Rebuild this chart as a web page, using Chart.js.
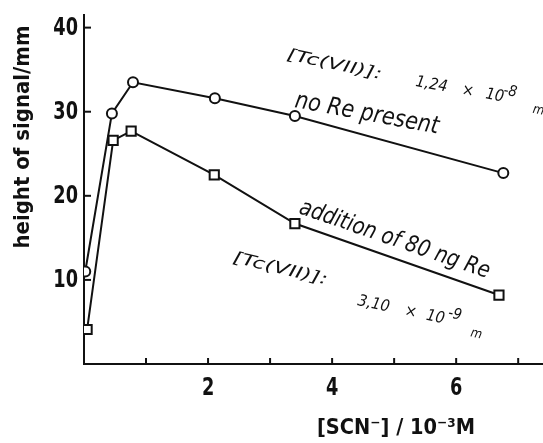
<!DOCTYPE html>
<html>
<head>
<meta charset="utf-8">
<script src="https://cdn.jsdelivr.net/npm/chart.js"></script>
<style>
  html, body { margin: 0; padding: 0; background: #fff; }
  #wrap { width: 543px; height: 443px; }
</style>
</head>
<body>
<div id="wrap"><canvas id="myChart" width="543" height="443"></canvas></div>
<script>
// [SCN-] in 10^-3 M, signal height in mm
const xNoRe = [0.02, 0.45, 0.79, 2.11, 3.40, 6.76];
const yNoRe = [11.0, 29.8, 33.5, 31.6, 29.5, 22.7];
const xWithRe = [0.05, 0.47, 0.76, 2.10, 3.40, 6.69];
const yWithRe = [4.1, 26.6, 27.7, 22.5, 16.7, 8.2];

const xTickValues = [1, 2, 3, 4, 5, 6, 7];
const xTickLabels = ['', '2', '', '4', '', '6', ''];
const yTickValues = [10, 20, 30, 40];
const yTickLabels = ['10', '20', '30', '40'];

const INK = '#111';
const HAND = '"Liberation Sans Narrow", "DejaVu Sans Condensed", sans-serif';

function toPoints(xs, ys) {
    return xs.map((v, i) => ({x: v, y: ys[i]}));
}

// draw a string rotated, stretched to a given length along its baseline
function fitText(ctx, str, x, y, angle, font, width, align) {
    ctx.save();
    ctx.translate(x, y);
    ctx.rotate(angle * Math.PI / 180);
    ctx.font = font;
    ctx.textAlign = align || 'left';
    const w = ctx.measureText(str).width;
    ctx.scale(width / w, 1);
    ctx.fillText(str, 0, 0);
    ctx.restore();
}

// narrow upright text (tick numbers)
function narrowText(ctx, str, x, y, align, baseline) {
    ctx.save();
    ctx.translate(x, y);
    ctx.scale(0.82, 1);
    ctx.font = 'bold 24px ' + HAND;
    ctx.textAlign = align;
    ctx.textBaseline = baseline;
    ctx.fillText(str, 0, 0);
    ctx.restore();
}

// several pieces on one rotated baseline: [text, dx, dy, size]
function drawPieces(ctx, x, y, angle, pieces) {
    ctx.save();
    ctx.translate(x, y);
    ctx.rotate(angle * Math.PI / 180);
    ctx.textAlign = 'left';
    pieces.forEach(p => {
        ctx.font = 'italic ' + p[3] + 'px ' + HAND;
        ctx.fillText(p[0], p[1], p[2]);
    });
    ctx.restore();
}

const paperMarks = {
    id: 'paperMarks',

    beforeDatasetsDraw(chart) {
        const {ctx, scales: {x, y}} = chart;
        ctx.save();
        ctx.strokeStyle = INK;
        ctx.lineWidth = 2;
        yTickValues.forEach(v => {
            const py = y.getPixelForValue(v);
            ctx.beginPath();
            ctx.moveTo(x.left, py);
            ctx.lineTo(x.left + 7, py);
            ctx.stroke();
        });
        xTickValues.forEach(v => {
            const px = x.getPixelForValue(v);
            ctx.beginPath();
            ctx.moveTo(px, y.bottom);
            ctx.lineTo(px, y.bottom - 6);
            ctx.stroke();
        });
        ctx.restore();
    },

    afterDraw(chart) {
        const {ctx, scales: {x, y}} = chart;
        ctx.save();
        ctx.fillStyle = INK;

        // tick numbers
        yTickValues.forEach((v, i) => {
            narrowText(ctx, yTickLabels[i], x.left - 6, y.getPixelForValue(v) + 1, 'right', 'middle');
        });
        xTickValues.forEach((v, i) => {
            if (xTickLabels[i]) narrowText(ctx, xTickLabels[i], x.getPixelForValue(v), y.bottom + 13, 'center', 'top');
        });

        // axis titles
        ctx.textBaseline = 'middle';
        fitText(ctx, 'height of signal/mm', 23, 137, -90, 'bold 22px ' + HAND, 223, 'center');
        fitText(ctx, '[SCN\u207B] / 10\u207B\u00B3M', 396, 428, 0, 'bold 22px ' + HAND, 158, 'center');
        ctx.textBaseline = 'alphabetic';

        // curve labels
        fitText(ctx, 'no Re present', 294, 107, 10.5, 'italic 24px ' + HAND, 146);
        fitText(ctx, 'addition of 80 ng Re', 298, 213, 19, 'italic 23px ' + HAND, 200);

        // Tc(VII) concentrations
        fitText(ctx, '[Tc(VII)]:', 286, 59, 12, 'italic 16px ' + HAND, 97);
        drawPieces(ctx, 415, 86, 10, [
            ['1,24', 0, 0, 16], ['\u00D7', 47, 0, 16], ['10', 71, 0, 16],
            ['-8', 88, -7, 15], ['m', 120, 6, 13]
        ]);
        fitText(ctx, '[Tc(VII)]:', 232, 262, 13.5, 'italic 16px ' + HAND, 97);
        drawPieces(ctx, 357, 305, 12, [
            ['3,10', 0, 0, 16], ['\u00D7', 48, 0, 16], ['10', 70, 0, 16],
            ['-9', 91, -7, 15], ['m', 117, 7, 13]
        ]);
        ctx.restore();
    }
};

new Chart(document.getElementById('myChart'), {
    type: 'scatter',
    data: {
        datasets: [
            {
                label: 'no Re present',
                data: toPoints(xNoRe, yNoRe),
                showLine: true,
                borderColor: INK,
                borderWidth: 2,
                pointStyle: 'circle',
                pointRadius: 5,
                pointBorderWidth: 2,
                pointBackgroundColor: '#fff',
                pointBorderColor: INK
            },
            {
                label: 'addition of 80 ng Re',
                data: toPoints(xWithRe, yWithRe),
                showLine: true,
                borderColor: INK,
                borderWidth: 2,
                pointStyle: 'rect',
                pointRadius: 6.5,
                pointBorderWidth: 2,
                pointBackgroundColor: '#fff',
                pointBorderColor: INK
            }
        ]
    },
    options: {
        responsive: false,
        animation: false,
        devicePixelRatio: 1,
        layout: {autoPadding: false, padding: {top: 15, right: 0, left: 0, bottom: 0}},
        plugins: {
            legend: {display: false},
            tooltip: {enabled: false}
        },
        scales: {
            x: {
                type: 'linear',
                min: 0,
                max: 7.4,
                grid: {display: false, drawTicks: false},
                border: {display: true, color: INK, width: 2},
                afterBuildTicks: scale => {
                    scale.ticks = xTickValues.map(v => ({value: v}));
                },
                afterFit: scale => { scale.height = 79; },
                ticks: {display: false}
            },
            y: {
                type: 'linear',
                min: 0,
                max: 41.5,
                grid: {display: false, drawTicks: false},
                border: {display: true, color: INK, width: 2},
                afterBuildTicks: scale => {
                    scale.ticks = yTickValues.map(v => ({value: v}));
                },
                afterFit: scale => { scale.width = 84; },
                ticks: {display: false}
            }
        }
    },
    plugins: [paperMarks]
});
</script>
</body>
</html>
